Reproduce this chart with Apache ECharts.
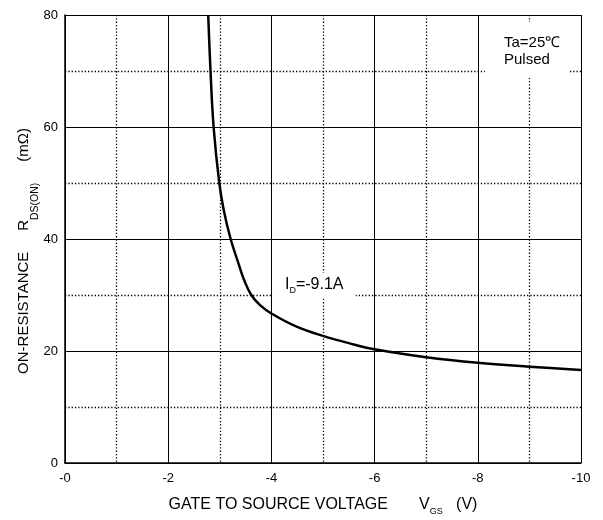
<!DOCTYPE html>
<html>
<head>
<meta charset="utf-8">
<script src="https://cdn.jsdelivr.net/npm/echarts@6/dist/echarts.min.js"></script>
<style>
  html, body { margin: 0; padding: 0; background: #fff; }
  #chart { width: 603px; height: 520px; }
</style>
</head>
<body>
<div id="chart"></div>
<script>
// gate-source voltage magnitude (V), plotted as -VGS
var vgs = [2.775, 2.82, 2.88, 2.99, 3.08, 3.21, 3.36, 3.47, 3.61, 3.78, 4.0, 4.5, 5.0, 5.5, 6.0, 7.0, 8.0, 9.0, 10.0];
// on-resistance (mOhm)
var rdsOn = [80, 70, 60, 50, 45, 40, 35.7, 32.7, 30, 28.2, 26.7, 24.3, 22.7, 21.4, 20.3, 18.9, 17.9, 17.2, 16.6];

var xTicks = [0, 2, 4, 6, 8, 10];
var yTicks = [0, 20, 40, 60, 80];

var font = 'Liberation Sans, Arial, sans-serif';
var dots = { color: '#000', width: 1.3, type: [1.3, 2] };

var chart = echarts.init(document.getElementById('chart'));

chart.setOption({
  animation: false,
  grid: {
    left: 65,
    right: 22,
    top: 15,
    bottom: 57,
    outerBoundsMode: 'none',
    containLabel: false
  },
  xAxis: {
    type: 'value',
    min: xTicks[0],
    max: xTicks[xTicks.length - 1],
    interval: 2,
    name: '{t|GATE TO SOURCE VOLTAGE       V}{sub|GS}{t|   (V)}',
    nameLocation: 'middle',
    nameGap: 31,
    nameTextStyle: {
      rich: {
        t: { fontFamily: font, fontSize: 16, color: '#000' },
        sub: { fontFamily: font, fontSize: 9, color: '#000', padding: [13, 0, 0, 0] }
      }
    },
    axisLine: { lineStyle: { color: '#000', width: 1.5 } },
    axisTick: { show: false },
    axisLabel: {
      fontFamily: font,
      fontSize: 13,
      color: '#000',
      margin: 9,
      formatter: function (v) { return '-' + v; }
    },
    splitLine: { show: true, lineStyle: { color: '#000', width: 1 } },
    minorTick: { show: false, splitNumber: 2 },
    minorSplitLine: { show: true, lineStyle: dots }
  },
  yAxis: {
    type: 'value',
    min: yTicks[0],
    max: yTicks[yTicks.length - 1],
    interval: 20,
    name: '{t|ON-RESISTANCE     R}{sub|DS(ON)}{t|     (mΩ)}',
    nameLocation: 'middle',
    nameGap: 24,
    nameMoveOverlap: false,
    nameTextStyle: {
      padding: [0, 24, 0, 0],
      rich: {
        t: { fontFamily: font, fontSize: 15, color: '#000' },
        sub: { fontFamily: font, fontSize: 10.5, color: '#000', padding: [24, 0, 0, 0] }
      }
    },
    axisLine: { show: true, lineStyle: { color: '#000', width: 1.5 } },
    axisTick: { show: false },
    axisLabel: {
      fontFamily: font,
      fontSize: 13,
      color: '#000',
      margin: 7
    },
    splitLine: { show: true, lineStyle: { color: '#000', width: 1 } },
    minorTick: { show: false, splitNumber: 2 },
    minorSplitLine: { show: true, lineStyle: dots }
  },
  graphic: [
    {
      type: 'text',
      left: 273,
      top: 273,
      z: 100,
      style: {
        text: '{t|I}{sub|D}{t|=-9.1A}',
        backgroundColor: '#fff',
        padding: [2, 12, 4, 12],
        rich: {
          t: { fontFamily: font, fontSize: 16, fill: '#000' },
          sub: { fontFamily: font, fontSize: 9, fill: '#000', padding: [11, 0, 0, 0] }
        }
      }
    },
    {
      type: 'text',
      left: 485,
      top: 22,
      z: 100,
      style: {
        text: 'Ta=25℃\nPulsed',
        fontFamily: font,
        fontSize: 15,
        lineHeight: 17,
        fill: '#000',
        backgroundColor: '#fff',
        padding: [12, 9, 10, 19]
      }
    }
  ],
  series: [
    {
      type: 'line',
      data: vgs.map(function (v, i) { return [v, rdsOn[i]]; }),
      smooth: 0.4,
      showSymbol: false,
      clip: true,
      lineStyle: { color: '#000', width: 2.5 },
      z: 10
    }
  ]
});
</script>
</body>
</html>
